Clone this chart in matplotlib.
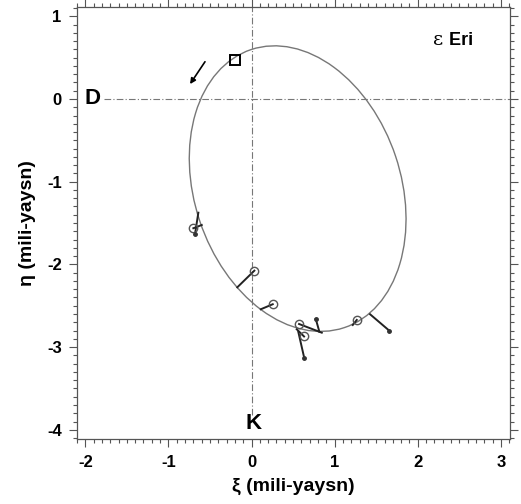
import matplotlib.pyplot as plt
from matplotlib.patches import Ellipse
from matplotlib.ticker import MultipleLocator

plt.rcParams['font.family'] = ['Liberation Sans', 'DejaVu Sans']
plt.rcParams['axes.unicode_minus'] = False

# apparent orbit: centre, full axes and tilt (deg)
orbit_center = (0.555, -1.084)
orbit_major = 3.544
orbit_minor = 2.483
orbit_angle = -71.6

# observed positions and their predicted points on the orbit
circle_obs_x = [-0.700, 0.034, 0.255, 0.572, 0.632, 1.266]
circle_obs_y = [-1.563, -2.076, -2.482, -2.721, -2.872, -2.672]
circle_fit_x = [-0.599, -0.171, 0.111, 0.845, 0.544, 1.218]
circle_fit_y = [-1.524, -2.277, -2.543, -2.826, -2.785, -2.733]

dot_obs_x = [-0.680, 0.773, 0.635, 1.658]
dot_obs_y = [-1.632, -2.660, -3.135, -2.802]
dot_fit_x = [-0.640, 0.816, 0.563, 1.426]
dot_fit_y = [-1.375, -2.814, -2.817, -2.603]

periastron = (-0.20, 0.47)
arrow_start = (-0.56, 0.45)
arrow_end = (-0.74, 0.18)

fig = plt.figure(figsize=(5.21, 5.04), dpi=100)
ax = fig.add_axes([0.1478, 0.1284, 0.8311, 0.8577])

ax.add_patch(Ellipse(orbit_center, orbit_major, orbit_minor, angle=orbit_angle,
                     fill=False, ec='#777777', lw=1.0))

# D-K reference lines through the primary
ax.hlines(0, -1.78, 3.11, colors='#777777', lw=0.8, linestyles=(0, (6, 2, 1, 2)))
ax.vlines(0, -3.82, 1.12, colors='#777777', lw=0.8, linestyles=(0, (6, 2, 1, 2)))

for ox, oy, fx, fy in zip(circle_obs_x, circle_obs_y, circle_fit_x, circle_fit_y):
    ax.plot([ox, fx], [oy, fy], color='#222222', lw=1.4)
for ox, oy, fx, fy in zip(dot_obs_x, dot_obs_y, dot_fit_x, dot_fit_y):
    ax.plot([ox, fx], [oy, fy], color='#222222', lw=1.4)
ax.plot(circle_obs_x, circle_obs_y, 'o', mfc='none', mec='#555555', ms=6, mew=1.0)
ax.plot(dot_obs_x, dot_obs_y, 'o', color='#333333', ms=2.5)
ax.plot(*periastron, 's', mfc='none', mec='black', ms=6.5, mew=1.4)
ax.annotate('', xy=arrow_end, xytext=arrow_start,
            arrowprops=dict(arrowstyle='-|>', color='black', lw=1.2,
                            mutation_scale=8, shrinkA=0, shrinkB=0))

ax.text(-1.91, 0, 'D', fontsize=16, fontweight='bold', ha='center', va='center')
ax.text(0.02, -3.93, 'K', fontsize=16, fontweight='bold', ha='center', va='center')
ax.text(2.30, 0.71, 'ε', fontsize=14, ha='right', va='center', family='DejaVu Serif')
ax.text(2.31, 0.71, ' Eri', fontsize=13, fontweight='bold', ha='left', va='center')

ax.set_xlim(-2.1, 3.11)
ax.set_ylim(-4.115, 1.112)
ax.xaxis.set_major_locator(MultipleLocator(1))
ax.yaxis.set_major_locator(MultipleLocator(1))
ax.xaxis.set_minor_locator(MultipleLocator(0.1))
ax.yaxis.set_minor_locator(MultipleLocator(0.1))
ax.tick_params(which='both', direction='out', top=True, right=True,
               color='#555555', labelsize=12, width=0.8)
ax.tick_params(which='major', length=6, pad=5)
ax.tick_params(which='minor', length=3)
for lab in ax.get_xticklabels() + ax.get_yticklabels():
    lab.set_fontweight('bold')
for s in ax.spines.values():
    s.set_color('#555555')
    s.set_linewidth(0.9)

ax.set_xlabel('ξ (mili-yaysn)', fontsize=14, fontweight='bold', labelpad=6)
ax.set_ylabel('η (mili-yaysn)', fontsize=14, fontweight='bold', labelpad=8)

fig.savefig('out.png', dpi=100)
